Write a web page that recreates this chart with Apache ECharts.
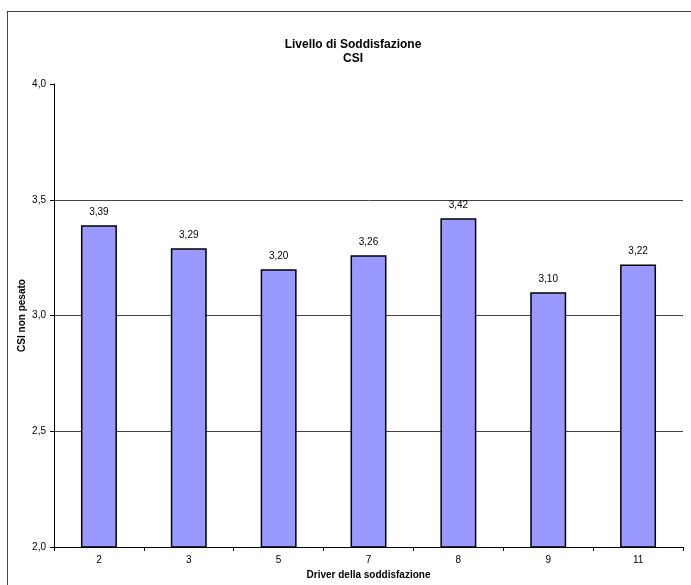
<!DOCTYPE html>
<html>
<head>
<meta charset="utf-8">
<script src="https://cdn.jsdelivr.net/npm/echarts@6/dist/echarts.min.js"></script>
<style>
  html, body { margin: 0; padding: 0; background: #fff; }
  #frame { position: absolute; left: 7px; top: 11px; width: 700px; height: 600px; border: 1px solid #444; box-sizing: border-box; }
  #chart { position: absolute; left: 0; top: 0; width: 691px; height: 585px; }
</style>
</head>
<body>
<div id="frame"></div>
<div id="chart"></div>
<script>
  // categorie e valori CSI
  const drivers = ["2", "3", "5", "7", "8", "9", "11"];
  const csiValues = [3.39, 3.29, 3.20, 3.26, 3.42, 3.10, 3.22];

  const myChart = echarts.init(document.getElementById("chart"));
  const font = "Liberation Sans, Arial, sans-serif";

  const option = {
    animation: false,
    title: {
      text: "Livello di Soddisfazione\nCSI",
      left: 348,
      textAlign: "center",
      top: 33,
      textStyle: { fontFamily: font, fontSize: 12, fontWeight: "bold", color: "#000", lineHeight: 14 },
    },
    grid: { left: 54, right: 8, top: 84, bottom: 38, outerBoundsMode: "none", containLabel: false },
    xAxis: {
      type: "category",
      data: drivers,
      name: "Driver della soddisfazione",
      nameLocation: "middle",
      nameGap: 23,
      nameMoveOverlap: false,
      nameTextStyle: { fontFamily: font, fontSize: 10, fontWeight: "bold", color: "#000" },
      axisLine: { lineStyle: { color: "#000", width: 1 } },
      axisTick: { show: true, alignWithLabel: false, length: 4, lineStyle: { color: "#000" } },
      axisLabel: { fontFamily: font, fontSize: 10, color: "#000", margin: 8 },
    },
    yAxis: {
      type: "value",
      min: 2,
      max: 4,
      interval: 0.5,
      name: "CSI non pesato",
      nameLocation: "middle",
      nameGap: 27,
      nameMoveOverlap: false,
      nameTextStyle: { fontFamily: font, fontSize: 10, fontWeight: "bold", color: "#000" },
      axisLine: { show: true, lineStyle: { color: "#000", width: 1 } },
      axisTick: { show: true, length: 4, lineStyle: { color: "#000" } },
      axisLabel: {
        fontFamily: font,
        fontSize: 10,
        color: "#000",
        margin: 8,
        formatter: (v) => v.toFixed(1).replace(".", ","),
      },
      splitLine: { show: true, showMinLine: false, showMaxLine: false, lineStyle: { color: "#444", width: 1 } },
    },
    series: [
      {
        name: "CSI",
        type: "bar",
        data: csiValues,
        barWidth: "40%",
        itemStyle: { color: "#9999ff", borderColor: "#000", borderWidth: 1.5 },
        label: {
          show: true,
          position: "top",
          distance: 8,
          fontFamily: font,
          fontSize: 10,
          color: "#000",
          formatter: (p) => p.value.toFixed(2).replace(".", ","),
        },
      },
    ],
  };

  myChart.setOption(option);
</script>
</body>
</html>
